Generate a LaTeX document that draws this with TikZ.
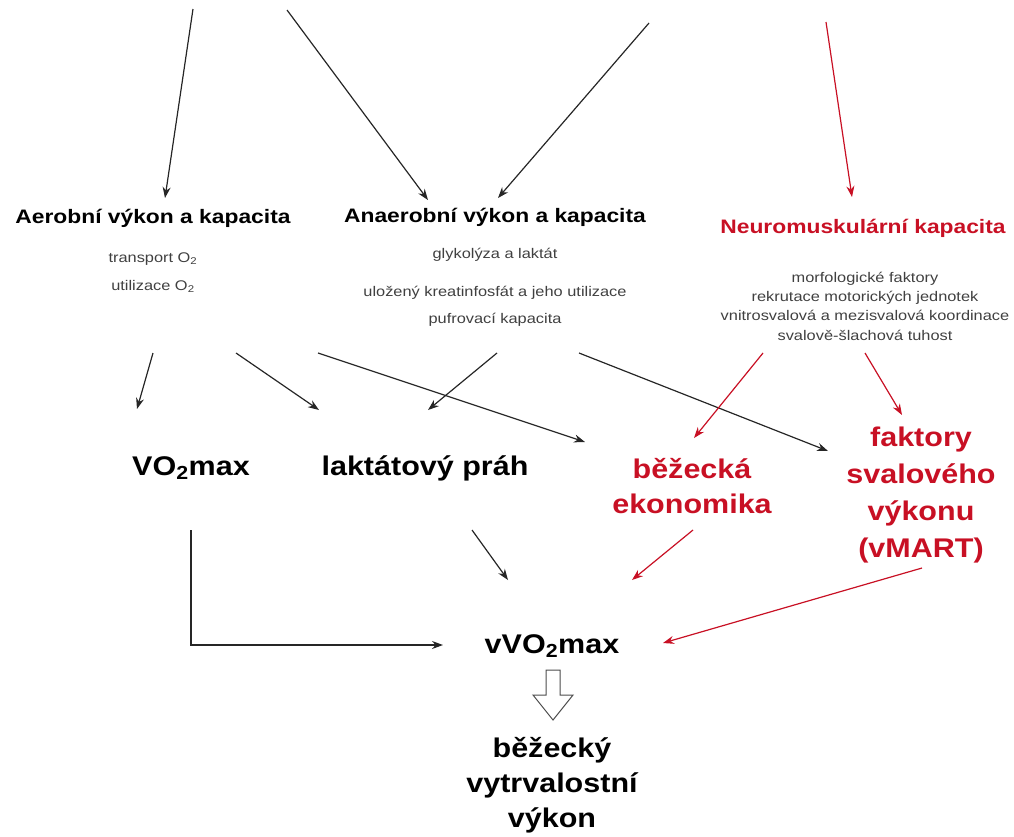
\documentclass[tikz,border=0pt]{standalone}
\usepackage{fontspec}
\setmainfont{Liberation Sans}
\usetikzlibrary{arrows.meta}
\definecolor{nred}{RGB}{200,16,36}
\definecolor{sgray}{RGB}{64,64,64}
\tikzset{
  titlet/.style={font=\fontsize{19.5}{23}\selectfont\bfseries, xscale=1.17, anchor=base, inner sep=0pt},
  smallt/.style={font=\fontsize{14}{19.3}\selectfont, text=sgray, xscale=1.17, anchor=base, align=center, inner sep=0pt},
  bigt/.style={font=\fontsize{27}{#1}\selectfont\bfseries, xscale=1.13, anchor=base, align=center, inner sep=0pt},
  bigt/.default=36,
  arr/.style={-{Stealth[length=11pt,width=8pt]}, line width=1.2pt, draw=black!85},
  rarr/.style={arr, draw=nred},
}
\begin{document}
\begin{tikzpicture}[x=1pt,y=-1pt]
\useasboundingbox (0,0) rectangle (1014,836);
% titles
\node[titlet] (aer) at (153,223) {Aerobní výkon a kapacita};
\node[titlet] (ana) at (495,222) {Anaerobní výkon a kapacita};
\node[titlet, text=nred] (neu) at (863,233) {Neuromuskulární kapacita};
% small texts
\node[smallt] (tr) at (153,262) {transport O\textsubscript{2}};
\node[smallt] (ut) at (153,290) {utilizace O\textsubscript{2}};
\node[smallt] (gl) at (495,258) {glykolýza a laktát};
\node[smallt] (ul) at (495,296) {uložený kreatinfosfát a jeho utilizace};
\node[smallt] (pu) at (495,323) {pufrovací kapacita};
\node[smallt] (nm) at (865,340) {morfologické faktory\\rekrutace motorických jednotek\\vnitrosvalová a mezisvalová koordinace\\svalově-šlachová tuhost};
% big texts (base anchor = baseline of last line)
\node[bigt] (vo) at (191,475) {VO\textsubscript{2}max};
\node[bigt] (lp) at (425,475) {laktátový práh};
\node[bigt=35, text=nred] (be) at (692,513) {běžecká\\ekonomika};
\node[bigt=36.7, text=nred] (fs) at (921,557) {faktory\\svalového\\výkonu\\(vMART)};
\node[bigt] (vvo) at (552,653) {vVO\textsubscript{2}max};
\node[bigt=35] (bv) at (552,827) {běžecký\\vytrvalostní\\výkon};
% coordinates for arrows
\coordinate (t1s) at (193,9);   \coordinate (t1e) at (165,198);
\coordinate (t2s) at (287,10);  \coordinate (t2e) at (428,200);
\coordinate (t3s) at (649,23);  \coordinate (t3e) at (498,198);
\coordinate (t4s) at (826,22);  \coordinate (t4e) at (852,197);
\coordinate (m1s) at (153,353); \coordinate (m1e) at (137,409);
\coordinate (m2s) at (236,353); \coordinate (m2e) at (319,410);
\coordinate (m3s) at (318,353); \coordinate (m3e) at (585,442);
\coordinate (m4s) at (497,353); \coordinate (m4e) at (428,410);
\coordinate (m5s) at (579,353); \coordinate (m5e) at (828,451);
\coordinate (r1s) at (763,353); \coordinate (r1e) at (694,438);
\coordinate (r2s) at (865,353); \coordinate (r2e) at (902,415);
\coordinate (v1s) at (191,530); \coordinate (v1c) at (191,645); \coordinate (v1e) at (443,645);
\coordinate (l1s) at (472,530); \coordinate (l1e) at (508,580);
\coordinate (e1s) at (693,530); \coordinate (e1e) at (632,580);
\coordinate (f1s) at (922,568); \coordinate (f1e) at (663,643);
% top arrows
\draw[arr] (t1s) -- (t1e);
\draw[arr] (t2s) -- (t2e);
\draw[arr] (t3s) -- (t3e);
\draw[rarr] (t4s) -- (t4e);
% middle arrows
\draw[arr] (m1s) -- (m1e);
\draw[arr] (m2s) -- (m2e);
\draw[arr] (m3s) -- (m3e);
\draw[arr] (m4s) -- (m4e);
\draw[arr] (m5s) -- (m5e);
\draw[rarr] (r1s) -- (r1e);
\draw[rarr] (r2s) -- (r2e);
% lower arrows
\draw[arr] (v1s) -- (v1c) -- (v1e);
\draw[arr] (l1s) -- (l1e);
\draw[rarr] (e1s) -- (e1e);
\draw[rarr] (f1s) -- (f1e);
% hollow arrow
\draw[draw=black!70, line width=1pt, fill=white, line join=miter]
  (546,670) -- (560,670) -- (560,695) -- (573,695) -- (553,720) -- (533,695) -- (546,695) -- cycle;
\end{tikzpicture}
\end{document}
